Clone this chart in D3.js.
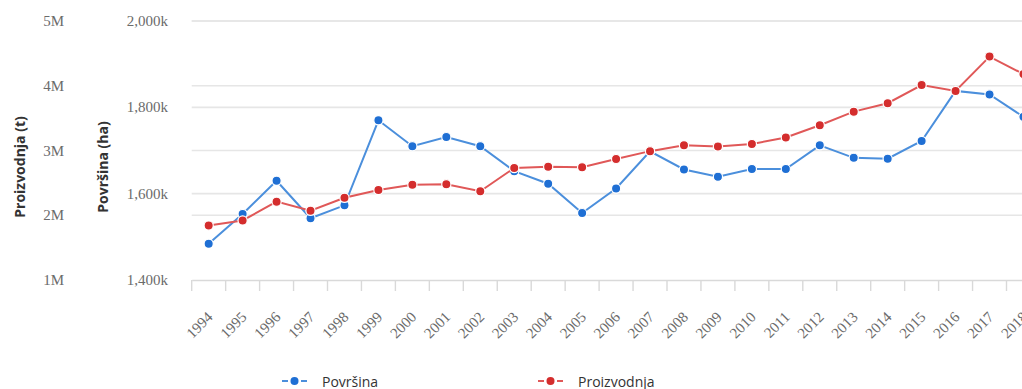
<!doctype html>
<html lang="hr">
<head>
  <meta charset="utf-8">
  <title>Površina i proizvodnja</title>
  <script src="https://d3js.org/d3.v7.min.js"></script>
  <style>
  body { margin: 0; background: #fff; }
  svg { display: block; overflow: hidden; }
  .tick-lbl { font: 15px "Liberation Serif", "Times New Roman", serif; fill: #6b6b6b; }
  .ax-title { font: bold 14px "Open Sans", sans-serif; fill: #333; }
  .leg { font: 14px "Open Sans", sans-serif; fill: #333; }
  </style>
</head>
<body>
<svg id="chart" width="1022" height="389"></svg>
<script>

// DATA
const years = ["1994","1995","1996","1997","1998","1999","2000","2001","2002","2003","2004","2005",
  "2006","2007","2008","2009","2010","2011","2012","2013","2014","2015","2016","2017","2018"];

// Površina (ha)
const povrsina = [1484000, 1553000, 1630000, 1543000, 1573000, 1770000, 1710000, 1731000, 1710000,
  1652000, 1623000, 1555000, 1612000, 1698000, 1656000, 1639000, 1657000, 1657000, 1712000,
  1683000, 1681000, 1722000, 1838000, 1830000, 1778000];

// Proizvodnja (t)
const proizvodnja = [1840000, 1920000, 2210000, 2070000, 2270000, 2390000, 2470000, 2480000, 2370000,
  2730000, 2750000, 2740000, 2870000, 2990000, 3080000, 3060000, 3100000, 3200000, 3390000,
  3600000, 3730000, 4010000, 3920000, 4450000, 4180000];

const prodTicks = [1000000, 2000000, 3000000, 4000000, 5000000];
const areaTicks = [1400000, 1600000, 1800000, 2000000];

const blueDot = "#1f6fd4", blueLine = "#4b8fdc";
const redDot = "#d42d2d", redLine = "#e05858";

const svg = d3.select("#chart");
const plotTop = 21, plotBottom = 280, plotLeft = 191.7;

let x = d3.scaleBand().domain(years).range([plotLeft, plotLeft + 25 * 33.95]);
let yArea = d3.scaleLinear().domain([1400000, 2000000]).range([plotBottom, plotTop]);
let yProd = d3.scaleLinear().domain([1000000, 5000000]).range([plotBottom, plotTop]);

// gridlines (both axes)
let grid = svg.append("g");
let gridVals = prodTicks.map(v => yProd(v)).concat(areaTicks.map(v => yArea(v)))
  .filter(y => y < plotBottom - 1);
grid.selectAll("line").data(gridVals).enter().append("line")
  .attr("x1", plotLeft).attr("x2", 1022)
  .attr("y1", d => d).attr("y2", d => d)
  .attr("stroke", "#e6e6e6").attr("stroke-width", 1.6);

// x axis
let xAxis = svg.append("g").attr("transform", "translate(0," + plotBottom + ")")
  .call(d3.axisBottom(x).tickSize(0).tickFormat(""));
xAxis.select(".domain").attr("stroke", "#d9d9d9").attr("stroke-width", 1.6);
xAxis.selectAll(".tick").remove();

let bounds = years.map(y => x(y)).concat([x.range()[1]]);
svg.append("g").selectAll("line").data(bounds).enter().append("line")
  .attr("x1", d => d).attr("x2", d => d)
  .attr("y1", plotBottom).attr("y2", plotBottom + 11)
  .attr("stroke", "#d9d9d9").attr("stroke-width", 1.4);

svg.append("g").selectAll("text").data(years).enter().append("text")
  .attr("class", "tick-lbl")
  .attr("text-anchor", "end")
  .attr("transform", d => "translate(" + (x(d) + x.bandwidth() / 2 + 5) + "," + 318 + ") rotate(-45)")
  .text(d => d);

// y labels
svg.append("g").selectAll("text").data(prodTicks).enter().append("text")
  .attr("class", "tick-lbl")
  .attr("text-anchor", "end")
  .attr("x", 64).attr("y", d => yProd(d) + 5)
  .text(d => d3.format("d")(d / 1000000) + "M");

svg.append("g").selectAll("text").data(areaTicks).enter().append("text")
  .attr("class", "tick-lbl")
  .attr("text-anchor", "end")
  .attr("x", 168).attr("y", d => yArea(d) + 5)
  .text(d => d3.format(",")(d / 1000) + "k");

svg.append("text").attr("class", "ax-title")
  .attr("text-anchor", "middle")
  .attr("transform", "translate(25,167) rotate(-90)")
  .text("Proizvodnja (t)");

svg.append("text").attr("class", "ax-title")
  .attr("text-anchor", "middle")
  .attr("transform", "translate(108,167) rotate(-90)")
  .text("Površina (ha)");

// series
const cx = (d, i) => x(years[i]) + x.bandwidth() / 2;

function drawSeries(values, yScale, lineCol, dotCol) {
  let line = d3.line().x(cx).y(d => yScale(d));
  svg.append("path").datum(values)
    .attr("d", line)
    .attr("fill", "none")
    .attr("stroke", lineCol)
    .attr("stroke-width", 2);
  svg.append("g").selectAll("circle").data(values).enter().append("circle")
    .attr("cx", cx)
    .attr("cy", d => yScale(d))
    .attr("r", 4.6)
    .attr("fill", dotCol)
    .attr("stroke", "#fff")
    .attr("stroke-width", 1.2);
}

drawSeries(povrsina, yArea, blueLine, blueDot);
drawSeries(proizvodnja, yProd, redLine, redDot);

// legend
const legend = [
  { name: "Površina", line: blueLine, dot: blueDot, x: 282 },
  { name: "Proizvodnja", line: redLine, dot: redDot, x: 538 }
];
let lg = svg.append("g").selectAll("g").data(legend).enter().append("g")
  .attr("transform", d => "translate(" + d.x + ",381)");
lg.append("line").attr("x1", 0).attr("x2", 6).attr("stroke", d => d.line).attr("stroke-width", 2);
lg.append("line").attr("x1", 19).attr("x2", 25).attr("stroke", d => d.line).attr("stroke-width", 2);
lg.append("circle").attr("cx", 12.5).attr("r", 4).attr("fill", d => d.dot);
lg.append("text").attr("class", "leg").attr("x", 40).attr("y", 6).text(d => d.name);

</script>
</body>
</html>
